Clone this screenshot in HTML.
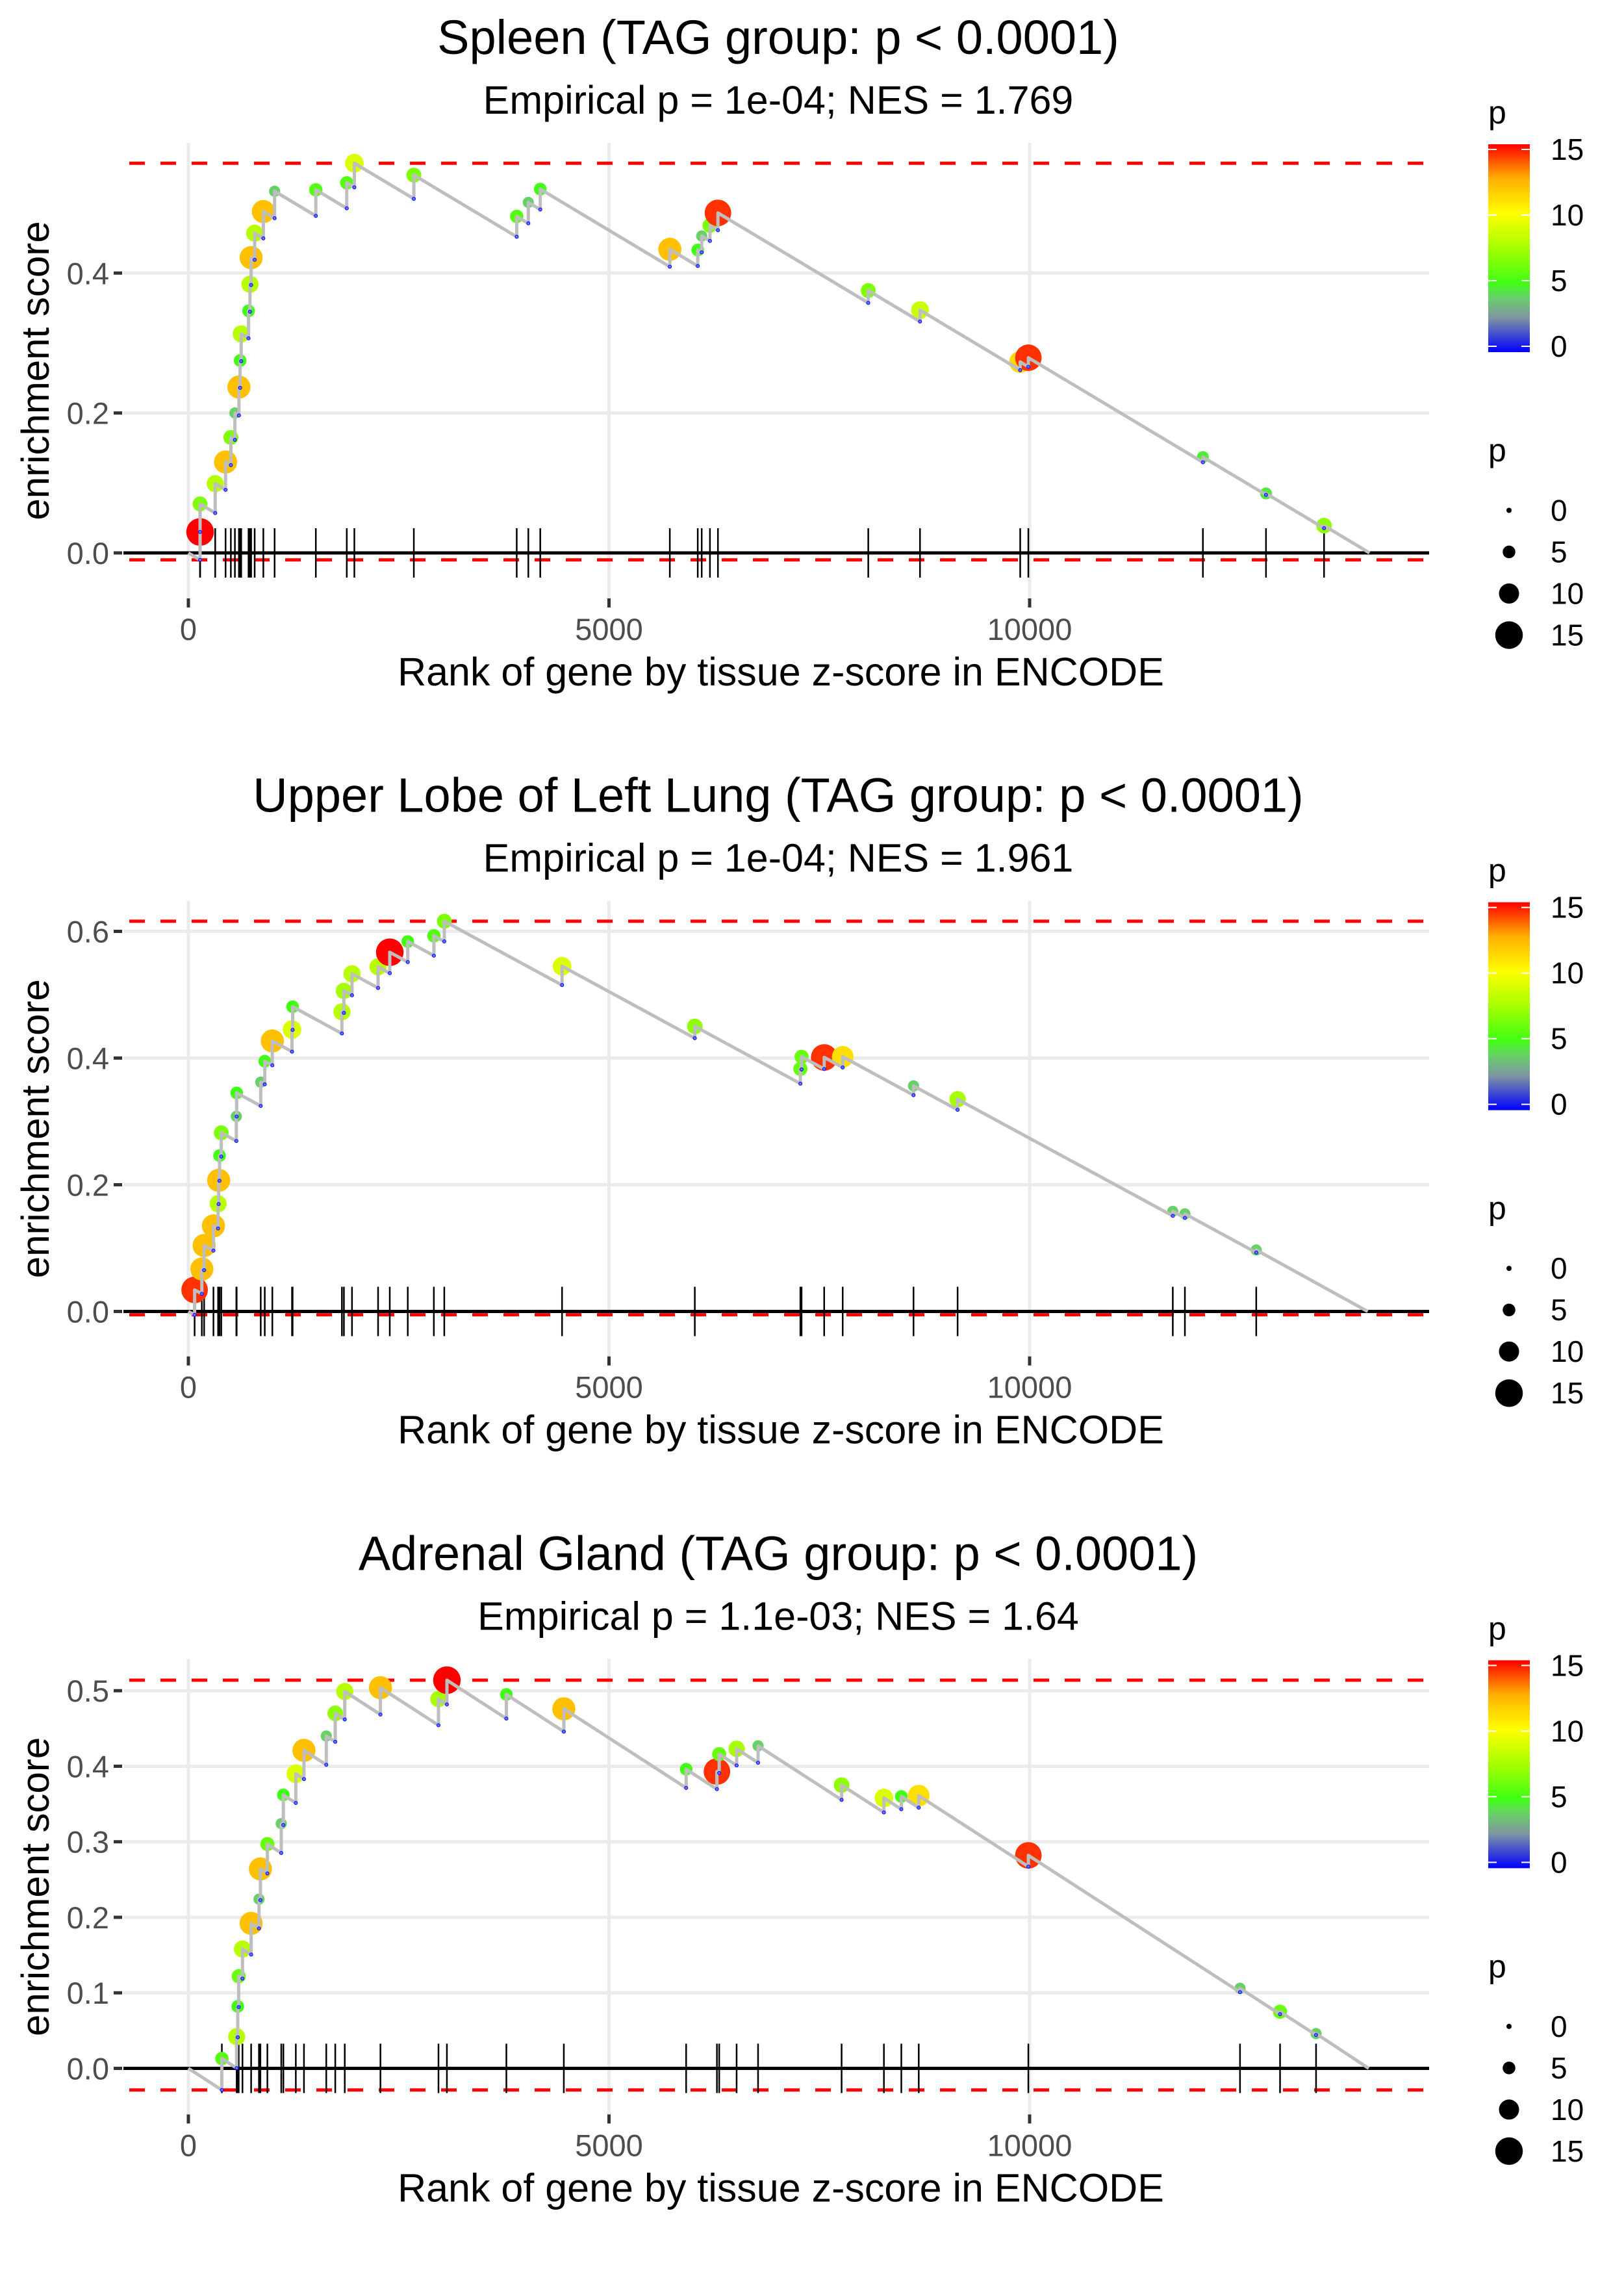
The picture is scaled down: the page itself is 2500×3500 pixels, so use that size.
<!DOCTYPE html>
<html><head><meta charset="utf-8"><style>
html,body{margin:0;padding:0;background:#fff}
svg{display:block;font-family:"Liberation Sans",Arial,sans-serif}
</style></head><body>
<svg id="chart" xmlns="http://www.w3.org/2000/svg" width="2500" height="3500" viewBox="0 0 2500 3500"></svg>
<script>
// ---------- data ----------
const titles = ["Spleen (TAG group: p < 0.0001)","Upper Lobe of Left Lung (TAG group: p < 0.0001)","Adrenal Gland (TAG group: p < 0.0001)"];
const subtitles = ["Empirical p = 1e-04; NES = 1.769","Empirical p = 1e-04; NES = 1.961","Empirical p = 1.1e-03; NES = 1.64"];
const ranks1 = [139,139,319,442,505,553,601,615,628,715,732,746,788,891,1025,1515,1883,1973,2680,3903,4041,4183,5723,6055,6102,6200,6295,8082,8697,9888,9985,12060,12810,13500];
const es1 = [0.030,0.070,0.099,0.130,0.165,0.200,0.237,0.275,0.313,0.346,0.384,0.422,0.457,0.488,0.517,0.519,0.529,0.557,0.540,0.481,0.501,0.520,0.434,0.433,0.453,0.468,0.486,0.375,0.347,0.273,0.279,0.137,0.085,0.039];
const p1 = [15,6.5,8,12,6.5,4,12,5,8,5,8,12,8,12,4,5.5,5.5,9,6.5,5.5,4,5,12,5,4,6.5,14.3,6.5,8.5,11.2,14.3,4.5,4.5,7];
const ranks2 = [74,160,187,298,353,360,370,391,570,574,860,908,998,1232,1239,1825,1849,1945,2255,2394,2608,2918,3042,4442,6020,7275,7289,7558,7778,8620,9144,11702,11846,12694];
const es2 = [0.034,0.067,0.104,0.135,0.170,0.207,0.246,0.282,0.308,0.345,0.362,0.395,0.427,0.445,0.481,0.473,0.506,0.533,0.544,0.567,0.584,0.593,0.616,0.545,0.450,0.383,0.402,0.401,0.402,0.356,0.335,0.158,0.154,0.097];
const p2 = [14.3,12,12,12,8,12,5,6.5,4,5,4,5,12,9,5,8,7.5,8,8,15,5,5.5,6.5,9,7,6,6,14.3,11,4,7.5,4,4,4];
const ranks3 = [398,574,587,598,643,746,839,856,939,1104,1129,1277,1374,1639,1746,1859,2283,2973,3073,3780,4463,5917,6283,6310,6517,6772,7765,8268,8475,8682,9985,12501,12977,13405];
const es3 = [0.013,0.042,0.082,0.122,0.158,0.192,0.224,0.264,0.297,0.324,0.362,0.390,0.421,0.440,0.470,0.499,0.504,0.489,0.514,0.495,0.476,0.396,0.393,0.416,0.423,0.427,0.375,0.358,0.360,0.361,0.282,0.106,0.075,0.046];
const p3 = [5.5,8,5,6,8,12,4,12,6,4,5,9,12,4,7,8,12,7.5,15,5,12,5,14.3,6,7.5,4,7,9,5,11,14.3,4,6,4];
const totalGenes = [14040,14019,14031];
const yTicks1 = [0.0,0.2,0.4];
const yTicks2 = [0.0,0.2,0.4,0.6];
const yTicks3 = [0.0,0.1,0.2,0.3,0.4,0.5];
const xTicks = [0,5000,10000];
const legendTicks = [0,5,10,15];
const yDomains = [[-0.065,0.586],[-0.071,0.648],[-0.061,0.542]];
const slope = 7.2e-5;

// ---------- helpers ----------
const NS="http://www.w3.org/2000/svg";
const svg=document.getElementById('chart');
function mk(tag,attrs,parent){const e=document.createElementNS(NS,tag);for(const k in attrs)e.setAttribute(k,attrs[k]);(parent||svg).appendChild(e);return e;}
const cStops=[[0,[0,0,255]],[2.5,[128,150,160]],[4,[102,210,102]],[5,[64,255,20]],[7.5,[165,255,0]],[10,[255,255,0]],[12.5,[255,176,0]],[15,[255,0,0]]];
function pColor(p){p=Math.max(0,Math.min(15,p));for(let i=1;i<cStops.length;i++){if(p<=cStops[i][0]){const a=cStops[i-1],b=cStops[i];const t=(p-a[0])/(b[0]-a[0]);const c=a[1].map((v,j)=>Math.round(v+(b[1][j]-v)*t));return `rgb(${c[0]},${c[1]},${c[2]})`;}}return 'rgb(255,0,0)';}
function pRadius(p){return 4+1.15*p;}
const X0=190,X1=2200;
function xScale(r){return 290+r*0.1295;}
const panelH=1166.7;

const defs=mk('defs',{});
const grad=mk('linearGradient',{id:'pgrad',x1:0,y1:1,x2:0,y2:0},defs);
for(let v=0;v<=15;v+=0.5){mk('stop',{offset:(v/15),'stop-color':pColor(v)},grad);}

const allRanks=[ranks1,ranks2,ranks3],allEs=[es1,es2,es3],allP=[p1,p2,p3],allYT=[yTicks1,yTicks2,yTicks3];

for(let k=0;k<3;k++){
  const off=k*panelH;
  const top=220+off,bot=921+off;
  const [d0,d1]=yDomains[k];
  const yScale=v=>bot-(v-d0)/(d1-d0)*(bot-top);
  const g=mk('g',{});
  
  
  const t=mk('text',{x:1198,y:83+off,'font-size':74,'text-anchor':'middle',fill:'#000'},g);t.textContent=titles[k];
  
  const st=mk('text',{x:1198,y:175+off,'font-size':61,'text-anchor':'middle',fill:'#000'},g);st.textContent=subtitles[k];
  
  allYT[k].forEach(v=>{const l=mk('line',{x1:X0,x2:X1,y1:yScale(v),y2:yScale(v),stroke:'#ebebeb','stroke-width':5},g);
    });
  xTicks.forEach(v=>{const l=mk('line',{x1:xScale(v),x2:xScale(v),y1:top,y2:bot,stroke:'#ebebeb','stroke-width':5},g);
    });
  allYT[k].forEach(v=>{const y=yScale(v);
    const tk=mk('line',{x1:175,x2:188,y1:y,y2:y,stroke:'#333','stroke-width':5},g);
    
    const tl=mk('text',{x:168,y:y+17,'font-size':47,'text-anchor':'end',fill:'#4d4d4d'},g);tl.textContent=v.toFixed(1);
    });
  xTicks.forEach(v=>{const x=xScale(v);
    const tk=mk('line',{x1:x,x2:x,y1:bot,y2:bot+14,stroke:'#333','stroke-width':5},g);
    
    const tl=mk('text',{x:x,y:985+off,'font-size':47,'text-anchor':'middle',fill:'#4d4d4d'},g);tl.textContent=String(v);
    });
  const xt=mk('text',{x:1202,y:1055+off,'font-size':61,'text-anchor':'middle',fill:'#000'},g);xt.textContent='Rank of gene by tissue z-score in ENCODE';
  
  const yt=mk('text',{x:0,y:0,'font-size':60,'text-anchor':'middle',fill:'#000',transform:`translate(75,${(top+bot)/2}) rotate(-90)`},g);yt.textContent='enrichment score';
  

  const R=allRanks[k],E=allEs[k],P=allP[k];
  let prevR=0,prevE=0,minE=0,maxE=0;const pts=[[0,0]];const dips=[];
  for(let i=0;i<R.length;i++){const dip=prevE-slope*(R[i]-prevR);pts.push([R[i],dip]);pts.push([R[i],E[i]]);dips.push([R[i],dip]);
    minE=Math.min(minE,dip);maxE=Math.max(maxE,E[i]);prevR=R[i];prevE=E[i];}
  pts.push([totalGenes[k],0]);
  [maxE,minE].forEach((v,i)=>{const l=mk('line',{x1:199,x2:X1,y1:yScale(v),y2:yScale(v),stroke:'#ff0000','stroke-width':5,'stroke-dasharray':'24 24'},g);
    });
  const z=mk('line',{x1:X0,x2:X1,y1:yScale(0),y2:yScale(0),stroke:'#000','stroke-width':5},g);
  
  R.forEach(r=>{const l=mk('line',{x1:xScale(r),x2:xScale(r),y1:yScale(0)-38,y2:yScale(0)+38,stroke:'#000','stroke-width':2.5},g);
    });
  R.forEach((r,i)=>{const c=mk('circle',{cx:xScale(r),cy:yScale(E[i]),r:pRadius(P[i]),fill:pColor(P[i])},g);
    });
  const path=mk('path',{d:'M'+pts.map(q=>xScale(q[0]).toFixed(1)+','+yScale(q[1]).toFixed(1)).join('L'),fill:'none',stroke:'#bebebe','stroke-width':5,'stroke-linejoin':'round'},g);
  
  dips.forEach(d=>{const c=mk('circle',{cx:xScale(d[0]),cy:yScale(d[1]),r:2.5,fill:'#6070ff',stroke:'#0000ff','stroke-width':1},g);
    });

  const lg=mk('g',{},g);
  
  const lt=mk('text',{x:2291,y:190+off,'font-size':50,fill:'#000'},lg);lt.textContent='p';
  const cbTop=230+off,cbBot=533+off;
  mk('rect',{x:2291,y:222+off,width:64,height:320,fill:'url(#pgrad)'},lg);
  legendTicks.forEach(v=>{const y=cbBot-(v/15)*(cbBot-cbTop);
    mk('line',{x1:2291,x2:2304,y1:y,y2:y,stroke:'#fff','stroke-width':2},lg);
    mk('line',{x1:2342,x2:2355,y1:y,y2:y,stroke:'#fff','stroke-width':2},lg);
    const tl=mk('text',{x:2387,y:y+16,'font-size':46,fill:'#000'},lg);tl.textContent=String(v);});
  const sg=mk('g',{},g);
  
  const st2=mk('text',{x:2291,y:710+off,'font-size':50,fill:'#000'},sg);st2.textContent='p';
  legendTicks.forEach((v,i)=>{const y=785.5+i*64+off;
    mk('circle',{cx:2323,cy:y,r:pRadius(v),fill:'#000'},sg);
    const tl=mk('text',{x:2387,y:y+16,'font-size':46,fill:'#000'},sg);tl.textContent=String(v);});
}
</script>
</body></html>
